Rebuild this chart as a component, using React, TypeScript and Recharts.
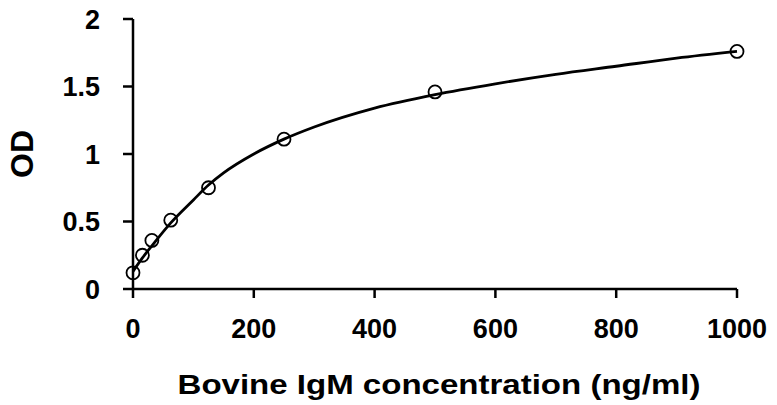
import React from 'react';
import { ComposedChart, Line, Scatter, XAxis, YAxis, Label } from 'recharts';

const concentrations = [0, 15.6, 31.25, 62.5, 125, 250, 500, 1000];
const odValues = [0.12, 0.25, 0.36, 0.51, 0.75, 1.11, 1.46, 1.76];

const curveX = [0, 15.6, 31.25, 62.5, 100, 125, 150, 200, 250, 300, 400, 500, 600, 700, 800, 900, 1000];
const curveY = [0.13, 0.23, 0.32, 0.49, 0.66, 0.77, 0.86, 1.0, 1.11, 1.2, 1.34, 1.44, 1.52, 1.59, 1.65, 1.71, 1.76];

const xTicks = [0, 200, 400, 600, 800, 1000];
const yTicks = [0, 0.5, 1, 1.5, 2];

const points = concentrations.map((x, i) => ({ x, y: odValues[i] }));
const curve = curveX.map((x, i) => ({ x, y: curveY[i] }));

const FONT = '"Liberation Sans", Arial, sans-serif';

const tickStyle = { fontFamily: FONT, fontWeight: 700, fontSize: 27, fill: '#000' };

export default function App() {
  return (
    <div style={{ position: 'absolute', left: 0, top: 0, background: '#fff' }}>
      <ComposedChart width={777} height={405} margin={{ top: 19, right: 40, bottom: 86, left: 33 }}>
        <XAxis
          dataKey="x"
          type="number"
          domain={[0, 1000]}
          ticks={xTicks}
          interval={0}
          axisLine={{ stroke: '#000', strokeWidth: 2.5 }}
          tickLine={{ stroke: '#000', strokeWidth: 2.5 }}
          tickSize={9}
          tickMargin={21}
          tick={tickStyle}
          height={30}
        >
          <Label
            content={({ viewBox }: any) => {
              const cx = viewBox.x + viewBox.width / 2 + 4;
              const by = viewBox.y + 105;
              return (
                <text
                  x={0}
                  y={0}
                  textAnchor="middle"
                  transform={`translate(${cx} ${by}) scale(1.18 1)`}
                  style={{ fontFamily: FONT, fontWeight: 700, fontSize: 28, fill: '#000' }}
                >
                  Bovine IgM concentration (ng/ml)
                </text>
              );
            }}
          />
        </XAxis>
        <YAxis
          type="number"
          domain={[0, 2]}
          ticks={yTicks}
          interval={0}
          axisLine={{ stroke: '#000', strokeWidth: 2.5 }}
          tickLine={{ stroke: '#000', strokeWidth: 2.5 }}
          tickSize={10}
          tickMargin={23}
          tick={tickStyle}
          width={100}
        >
          <Label
            content={({ viewBox }: any) => {
              const cx = viewBox.x - 11;
              const cy = viewBox.y + viewBox.height / 2;
              return (
                <text
                  x={cx}
                  y={cy}
                  textAnchor="middle"
                  dominantBaseline="central"
                  transform={`rotate(-90 ${cx} ${cy})`}
                  style={{ fontFamily: FONT, fontWeight: 700, fontSize: 32, fill: '#000' }}
                >
                  OD
                </text>
              );
            }}
          />
        </YAxis>
        <Line
          data={curve}
          dataKey="y"
          type="monotone"
          stroke="#000"
          strokeWidth={2.8}
          dot={false}
          activeDot={false}
          isAnimationActive={false}
        />
        <Scatter
          data={points}
          dataKey="y"
          fill="none"
          stroke="#000"
          strokeWidth={1.8}
          shape={(p: any) => <circle cx={p.cx} cy={p.cy} r={6.5} fill="none" stroke="#000" strokeWidth={1.8} />}
          isAnimationActive={false}
        />
      </ComposedChart>
    </div>
  );
}
